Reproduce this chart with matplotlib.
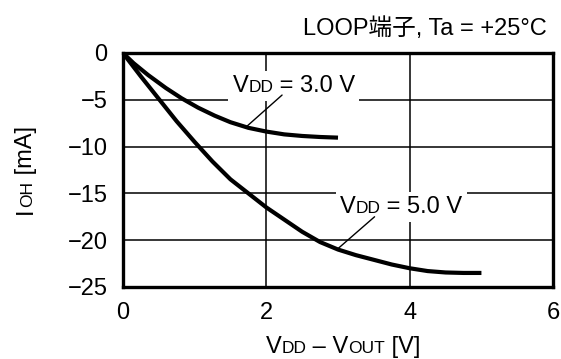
import numpy as np
import matplotlib.pyplot as plt
import matplotlib.transforms as mtransforms
from matplotlib.patches import Rectangle

plt.rcParams['font.family'] = ['Liberation Sans', 'Noto Sans CJK JP']

# output current vs. VDD - VOUT
v_3 = [0, 0.15, 0.35, 0.6, 0.82, 1.05, 1.28, 1.5, 1.75, 2.0, 2.25, 2.5, 2.75, 3.0]
ioh_3 = [0, -1.1, -2.35, -3.75, -4.85, -5.85, -6.7, -7.4, -8.0, -8.4, -8.7, -8.87, -8.98, -9.05]

v_5 = [0, 0.25, 0.5, 0.75, 1.0, 1.25, 1.5, 1.75, 2.0, 2.25, 2.5, 2.75,
       3.0, 3.25, 3.5, 3.75, 4.0, 4.25, 4.5, 4.75, 5.0]
ioh_5 = [0, -2.5, -4.9, -7.3, -9.5, -11.6, -13.5, -15.0, -16.5, -17.8, -19.1, -20.2,
         -21.0, -21.6, -22.1, -22.6, -23.0, -23.3, -23.45, -23.5, -23.5]

xticks = [0, 2, 4, 6]
yticks = [0, -5, -10, -15, -20, -25]

BIG, SMALL = 17, 12.5

fig = plt.figure(figsize=(5.61, 3.59), dpi=100)
ax = fig.add_axes([0.219, 0.2006, 0.767, 0.652])


def rich_text(x, y, parts, transform, rotation=0, box=False):
    """Draw text pieces of mixed size on one baseline, centred on (x, y)."""
    renderer = fig.canvas.get_renderer()
    texts = [fig.text(x, y, s, fontsize=sz, transform=transform, ha='left',
                      va='baseline', rotation=rotation, rotation_mode='anchor')
             for s, sz in parts]
    sizes = []
    for t in texts:
        bb = t.get_window_extent(renderer)
        sizes.append(bb.height if rotation else bb.width)
    pos = -sum(sizes) / 2
    for t, w in zip(texts, sizes):
        if rotation:
            t.set_transform(mtransforms.offset_copy(transform, fig=fig, x=0, y=pos, units='dots'))
        else:
            t.set_transform(mtransforms.offset_copy(transform, fig=fig, x=pos, y=0, units='dots'))
        pos += w
    if box:
        bbs = [t.get_window_extent(renderer) for t in texts]
        u = mtransforms.Bbox.union(bbs).padded(4)
        (x0, y0), (x1, y1) = ax.transAxes.inverted().transform(u.get_points())
        ax.add_patch(Rectangle((x0, y0), x1 - x0, y1 - y0, transform=ax.transAxes,
                               facecolor='white', edgecolor='none', zorder=2.1))
    return texts


for v, i in [(v_3, ioh_3), (v_5, ioh_5)]:
    ax.plot(v, i, color='black', lw=3.0, solid_capstyle='butt',
            solid_joinstyle='round', zorder=2.5)

ax.set_xlim(0, 6)
ax.set_ylim(-25, 0)
ax.set_xticks(xticks)
ax.set_yticks(yticks)
ax.grid(True, color='black', lw=1.1)
ax.tick_params(length=0, labelsize=BIG, pad=11)
for s in ax.spines.values():
    s.set_linewidth(2.4)

# curve labels with leader lines
rich_text(2.385, -4.13, [('V', BIG), ('DD', SMALL), (' = 3.0 V', BIG)], ax.transData, box=True)
ax.annotate('', xy=(1.72, -7.9), xytext=(2.22, -4.5),
            arrowprops=dict(arrowstyle='-', color='black', lw=1.0, shrinkA=0, shrinkB=0))
rich_text(3.88, -17.06, [('V', BIG), ('DD', SMALL), (' = 5.0 V', BIG)], ax.transData, box=True)
ax.annotate('', xy=(3.0, -20.9), xytext=(3.51, -17.5),
            arrowprops=dict(arrowstyle='-', color='black', lw=1.0, shrinkA=0, shrinkB=0))

# axis titles
rich_text(343 / 561, 1 - 353 / 359,
          [('V', BIG), ('DD', SMALL), (' – V', BIG), ('OUT', SMALL), (' [V]', BIG)],
          fig.transFigure)
rich_text(32 / 561, 1 - 170 / 359, [('I', BIG), ('OH', SMALL), (' [mA]', BIG)],
          fig.transFigure, rotation=90)

fig.text(547 / 561, 1 - 35 / 359, 'LOOP端子, Ta = +25°C', fontsize=BIG,
         ha='right', va='baseline')

fig.savefig('out.png', dpi=100)
